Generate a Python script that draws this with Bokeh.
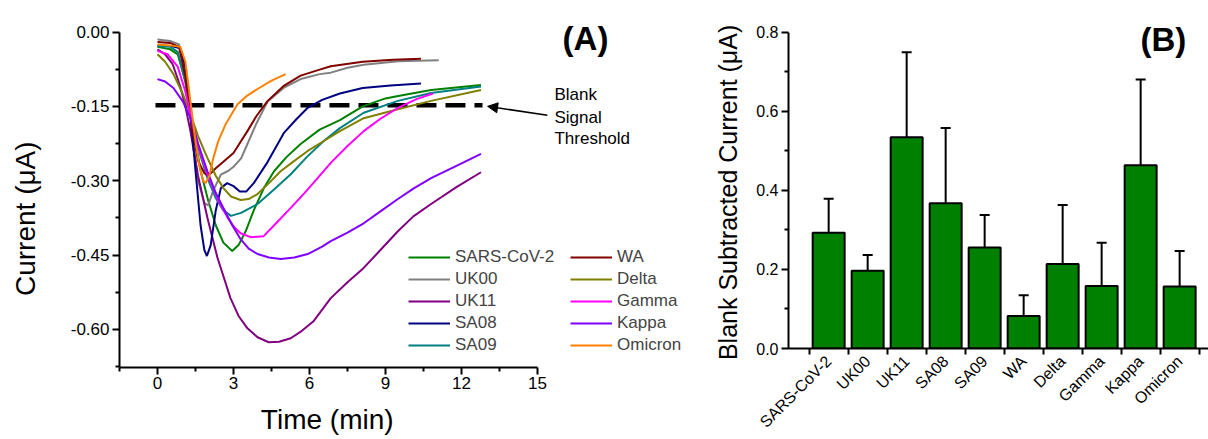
import math
from bokeh.plotting import figure
from bokeh.layouts import row, column
from bokeh.models import (Range1d, FixedTicker, NumeralTickFormatter, Legend, LegendItem,
                          Label, Arrow, NormalHead, Whisker, TeeHead, ColumnDataSource)
from bokeh.embed import file_html
from bokeh.resources import INLINE

FONT = "Liberation Sans"
NB = "\u00a0"

# ---------------- Panel A data (time in min, current in uA) ----------------
sars_t = [0, 0.5, 0.8, 1.1, 1.4, 1.7, 2.0, 2.3, 2.6, 2.95, 3.2, 3.5, 3.8, 4.2, 4.6, 5.1, 5.65, 6.4, 7.2, 8.1, 9.0, 9.5, 10.8, 12.77]
sars_v = [-0.030, -0.035, -0.045, -0.10, -0.19, -0.28, -0.34, -0.39, -0.425, -0.442, -0.43, -0.40, -0.36, -0.315, -0.281, -0.252, -0.226, -0.197, -0.178, -0.150, -0.134, -0.129, -0.117, -0.107]

uk00_t = [0, 0.5, 0.85, 1.1, 1.35, 1.6, 1.85, 2.0, 2.2, 2.5, 2.8, 3.0, 3.3, 3.55, 3.9, 4.35, 5.0, 5.65, 6.4, 6.84, 7.5, 8.14, 9.5, 11.1]
uk00_v = [-0.015, -0.018, -0.025, -0.08, -0.20, -0.30, -0.345, -0.350, -0.32, -0.288, -0.28, -0.272, -0.255, -0.226, -0.185, -0.14, -0.112, -0.095, -0.085, -0.082, -0.072, -0.066, -0.059, -0.057]

uk11_t = [0, 0.3, 0.6, 0.9, 1.1, 1.3, 1.6, 1.97, 2.37, 2.88, 3.2, 3.55, 3.95, 4.39, 4.8, 5.26, 5.7, 6.17, 6.84, 7.5, 8.14, 8.8, 9.49, 10.1, 10.8, 11.8, 12.77]
uk11_v = [-0.035, -0.045, -0.065, -0.11, -0.15, -0.20, -0.29, -0.375, -0.456, -0.537, -0.573, -0.598, -0.616, -0.626, -0.625, -0.618, -0.603, -0.583, -0.537, -0.505, -0.476, -0.44, -0.402, -0.372, -0.347, -0.313, -0.283]

sa08_t = [0, 0.5, 0.9, 1.1, 1.3, 1.5, 1.7, 1.85, 1.95, 2.1, 2.3, 2.5, 2.75, 3.0, 3.25, 3.5, 3.8, 4.35, 5.0, 5.5, 5.93, 6.5, 7.2, 8.1, 9.2, 10.4]
sa08_v = [-0.028, -0.028, -0.033, -0.07, -0.165, -0.28, -0.39, -0.44, -0.452, -0.43, -0.36, -0.315, -0.305, -0.311, -0.322, -0.322, -0.305, -0.262, -0.203, -0.175, -0.153, -0.137, -0.124, -0.113, -0.108, -0.104]

sa09_t = [0, 0.5, 0.8, 1.1, 1.4, 1.7, 1.97, 2.3, 2.6, 2.9, 3.3, 3.95, 4.6, 5.26, 5.9, 6.56, 7.2, 8.14, 9.49, 10.8, 12.77]
sa09_v = [-0.028, -0.030, -0.040, -0.10, -0.19, -0.25, -0.295, -0.335, -0.36, -0.371, -0.365, -0.347, -0.318, -0.287, -0.252, -0.220, -0.194, -0.163, -0.139, -0.123, -0.110]

wa_t = [0, 0.5, 0.85, 1.1, 1.35, 1.6, 1.85, 2.0, 2.3, 2.6, 3.0, 3.3, 3.55, 3.9, 4.35, 5.0, 5.65, 6.4, 6.84, 8.1, 9.3, 10.4]
wa_v = [-0.020, -0.022, -0.030, -0.09, -0.19, -0.26, -0.285, -0.29, -0.275, -0.262, -0.244, -0.22, -0.20, -0.17, -0.139, -0.108, -0.088, -0.076, -0.069, -0.060, -0.056, -0.054]

delta_t = [0, 0.3, 0.63, 1.0, 1.3, 1.6, 1.97, 2.3, 2.6, 2.9, 3.28, 3.6, 3.95, 4.4, 4.86, 5.4, 5.93, 6.5, 7.2, 8.14, 9.49, 10.8, 12.77]
delta_v = [-0.045, -0.060, -0.085, -0.125, -0.165, -0.21, -0.254, -0.29, -0.315, -0.332, -0.339, -0.337, -0.327, -0.305, -0.281, -0.26, -0.240, -0.222, -0.200, -0.174, -0.156, -0.139, -0.117]

gamma_t = [0, 0.4, 0.8, 1.1, 1.4, 1.7, 1.97, 2.4, 2.77, 3.05, 3.28, 3.68, 4.19, 4.7, 5.26, 5.8, 6.32, 6.84, 7.5, 8.14, 8.8, 9.49, 10.2, 10.87]
gamma_v = [-0.038, -0.045, -0.07, -0.12, -0.19, -0.245, -0.287, -0.34, -0.375, -0.395, -0.406, -0.414, -0.412, -0.385, -0.355, -0.325, -0.295, -0.264, -0.23, -0.200, -0.175, -0.153, -0.136, -0.124]

kappa_t = [0, 0.3, 0.63, 1.0, 1.3, 1.6, 1.97, 2.3, 2.6, 2.95, 3.28, 3.6, 3.95, 4.4, 4.86, 5.4, 5.93, 6.5, 6.84, 7.5, 8.14, 8.8, 9.49, 10.1, 10.8, 11.8, 12.77]
kappa_v = [-0.095, -0.100, -0.113, -0.14, -0.173, -0.225, -0.281, -0.325, -0.355, -0.39, -0.418, -0.437, -0.448, -0.455, -0.458, -0.455, -0.448, -0.433, -0.422, -0.405, -0.386, -0.362, -0.337, -0.316, -0.295, -0.27, -0.246]

omicron_t = [0, 0.5, 0.9, 1.1, 1.3, 1.5, 1.65, 1.8, 1.9, 2.05, 2.2, 2.4, 2.7, 3.16, 3.5, 3.95, 4.5, 5.06]
omicron_v = [-0.025, -0.027, -0.030, -0.06, -0.14, -0.22, -0.27, -0.30, -0.305, -0.29, -0.255, -0.22, -0.185, -0.146, -0.13, -0.115, -0.098, -0.085]

series_names = ["SARS-CoV-2", "UK00", "UK11", "SA08", "SA09", "WA", "Delta", "Gamma", "Kappa", "Omicron"]
series_colors = ["#008000", "#808080", "#800080", "#000080", "#008080",
                 "#800000", "#808000", "#FF00FF", "#8000FF", "#FF8000"]
series_t = [sars_t, uk00_t, uk11_t, sa08_t, sa09_t, wa_t, delta_t, gamma_t, kappa_t, omicron_t]
series_v = [sars_v, uk00_v, uk11_v, sa08_v, sa09_v, wa_v, delta_v, gamma_v, kappa_v, omicron_v]

threshold_x = [-0.08, 12.83]
threshold_y = -0.148

# ---------------- Panel B data ----------------
variants = ["SARS-CoV-2", "UK00", "UK11", "SA08", "SA09", "WA", "Delta", "Gamma", "Kappa", "Omicron"]
signal = [0.293, 0.197, 0.535, 0.368, 0.256, 0.082, 0.214, 0.158, 0.464, 0.157]
signal_err = [0.086, 0.040, 0.215, 0.190, 0.082, 0.053, 0.149, 0.110, 0.217, 0.090]


def style_axes(p, tick_font):
    for ax in (p.xaxis[0], p.yaxis[0]):
        ax.axis_line_width = 2
        ax.axis_line_color = "black"
        ax.major_tick_line_width = 2
        ax.minor_tick_line_width = 2
        ax.major_tick_line_color = "black"
        ax.minor_tick_line_color = "black"
        ax.major_tick_in = 0
        ax.major_tick_out = 7
        ax.minor_tick_in = 0
        ax.minor_tick_out = 4
        ax.major_label_text_font = FONT
        ax.major_label_text_font_size = tick_font
        ax.major_label_text_color = "black"
        ax.axis_label_text_font = FONT
        ax.axis_label_text_font_style = "normal"
        ax.axis_label_text_color = "black"
    p.xgrid.visible = False
    p.ygrid.visible = False
    p.outline_line_color = None


# ---------------- Panel A ----------------
pa = figure(width=698, height=439, output_backend="svg", toolbar_location=None,
            x_range=Range1d(-1.5, 21.04), y_range=Range1d(-0.677, 0.0333),
            min_border_left=119, min_border_right=8, min_border_top=15, min_border_bottom=72)
style_axes(pa, "17px")
pa.xaxis.bounds = (-1.5, 15)
pa.yaxis.bounds = (-0.677, 0.0)
pa.xaxis.ticker = FixedTicker(ticks=[0, 3, 6, 9, 12, 15],
                              minor_ticks=[-1.5, 1.5, 4.5, 7.5, 10.5, 13.5])
pa.yaxis.ticker = FixedTicker(ticks=[0.0, -0.15, -0.30, -0.45, -0.60],
                              minor_ticks=[-0.075, -0.225, -0.375, -0.525, -0.675])
pa.yaxis.formatter = NumeralTickFormatter(format="0.00")
# trailing no-break spaces shift the centred titles to where the reference puts them
pa.xaxis.axis_label = "Time (min)" + NB * 20
pa.yaxis.axis_label = "Current (μA)" + NB * 7
pa.xaxis.axis_label_text_font_size = "28px"
pa.yaxis.axis_label_text_font_size = "28px"
pa.xaxis.major_label_standoff = 2
pa.yaxis.major_label_standoff = 3
pa.xaxis.axis_label_standoff = 12
pa.yaxis.axis_label_standoff = 27

pa.line(threshold_x, [threshold_y, threshold_y], line_color="black", line_width=4.5, line_dash="20 9")

renderers = []
for name, color, t, v in zip(series_names, series_colors, series_t, series_v):
    r = pa.line(t, v, line_color=color, line_width=2)
    renderers.append(r)

leg_kw = dict(label_text_font=FONT, label_text_font_size="17px", glyph_width=42, glyph_height=20,
              label_height=20, spacing=2, label_standoff=5, padding=0, margin=0,
              border_line_color=None, background_fill_alpha=0)
legend1 = Legend(items=[LegendItem(label=series_names[i], renderers=[renderers[i]]) for i in range(5)],
                 location=(289, 12), **leg_kw)
legend2 = Legend(items=[LegendItem(label=series_names[i], renderers=[renderers[i]]) for i in range(5, 10)],
                 location=(451, 12), **leg_kw)
pa.add_layout(legend1, "center")
pa.add_layout(legend2, "center")

pa.add_layout(Arrow(end=NormalHead(size=10, fill_color="black", line_color="black"),
                    x_start=15.39, y_start=-0.168, x_end=13.03, y_end=-0.150,
                    line_color="black", line_width=1.5))
for txt, yy in [("Blank", -0.1261), ("Signal", -0.1725), ("Threshold", -0.2148)]:
    pa.add_layout(Label(x=15.67, y=yy, text=txt, text_font=FONT, text_font_size="17px",
                        text_color="black", text_align="left", text_baseline="middle"))
pa.add_layout(Label(x=15.99, y=-0.0131, text="(A)", text_font=FONT, text_font_size="33px",
                    text_font_style="bold", text_color="black", text_align="left",
                    text_baseline="middle"))

# ---------------- Panel B ----------------
xpos = list(range(1, len(variants) + 1))
src = ColumnDataSource(dict(x=xpos, top=signal,
                            upper=[s + e for s, e in zip(signal, signal_err)],
                            lower=[s - e for s, e in zip(signal, signal_err)]))
pb = figure(width=510, height=439, output_backend="svg", toolbar_location=None,
            x_range=Range1d(-0.03, 10.74), y_range=Range1d(0, 0.843),
            min_border_left=90, min_border_right=0, min_border_top=15, min_border_bottom=90)
style_axes(pb, "16px")
pb.yaxis.bounds = (0, 0.8)
pb.xaxis.ticker = FixedTicker(ticks=xpos, minor_ticks=[i + 0.5 for i in range(0, 11)])
pb.xaxis.major_tick_out = 0
pb.xaxis.minor_tick_out = 6
pb.xaxis.major_label_overrides = {i: n for i, n in zip(xpos, variants)}
pb.xaxis.major_label_orientation = math.pi / 4
pb.xaxis.major_label_text_font_size = "16px"
pb.xaxis.major_label_standoff = 4
pb.yaxis.ticker = FixedTicker(ticks=[0.0, 0.2, 0.4, 0.6, 0.8], minor_ticks=[0.1, 0.3, 0.5, 0.7])
pb.yaxis.formatter = NumeralTickFormatter(format="0.0")
pb.yaxis.axis_label = "Blank Subtracted Current (μA)" + NB * 3
pb.yaxis.axis_label_text_font_size = "25px"
pb.yaxis.major_label_standoff = 3
pb.yaxis.axis_label_standoff = 11

pb.vbar(x="x", top="top", width=0.82, bottom=0, source=src,
        fill_color="#008000", line_color="black", line_width=2)
pb.add_layout(Whisker(source=src, base="x", upper="upper", lower="lower",
                      line_color="black", line_width=2,
                      upper_head=TeeHead(size=10, line_width=2, line_color="black"),
                      lower_head=TeeHead(size=10, line_width=2, line_color="black")))
pb.add_layout(Label(x=8.996, y=0.7823, text="(B)", text_font=FONT, text_font_size="33px",
                    text_font_style="bold", text_color="black", text_align="left",
                    text_baseline="middle"))

layout = row(column(pa), column(pb))
open("out.html", "w").write(file_html(layout, INLINE))
